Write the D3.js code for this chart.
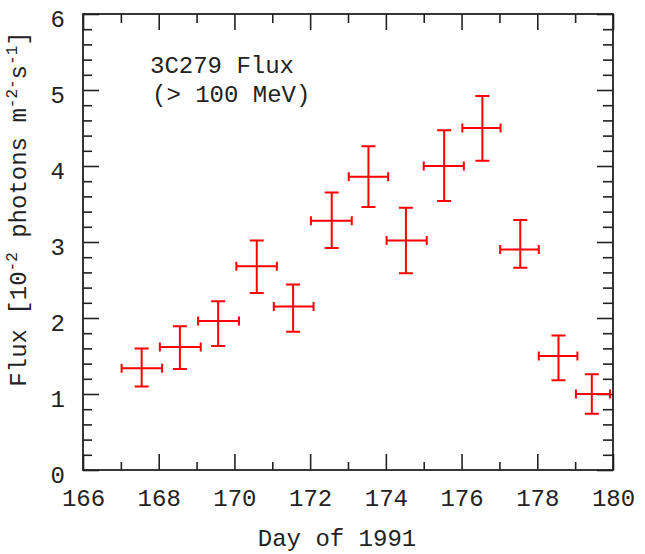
<!DOCTYPE html>
<html>
<head>
<meta charset="utf-8">
<script src="https://cdn.jsdelivr.net/npm/d3@7"></script>
<style>
    body { margin: 0; background: #fff; }
    text { font-family: "Liberation Mono", "DejaVu Sans Mono", monospace; fill: #222; }
</style>
</head>
<body>
<div id="chart"></div>
<script>
// flux points: bin edges, centre, flux and its error range
const dayMid = [167.55, 168.56, 169.57, 170.59, 171.55, 172.57, 173.54, 174.53, 175.54, 176.55, 177.55, 178.56, 179.44];
const dayLo = [167.02, 168.03, 169.04, 170.05, 171.04, 172.02, 173.02, 174.02, 175.00, 176.02, 177.02, 178.04, 179.02];
const dayHi = [168.09, 169.11, 170.12, 171.12, 172.09, 173.10, 174.06, 175.08, 176.06, 177.03, 178.04, 179.06, 179.92];
const flux = [1.34, 1.62, 1.96, 2.68, 2.15, 3.28, 3.86, 3.02, 4.00, 4.50, 2.90, 1.50, 1.00];
const fluxLo = [1.10, 1.33, 1.63, 2.33, 1.82, 2.92, 3.46, 2.59, 3.54, 4.07, 2.66, 1.18, 0.74];
const fluxHi = [1.60, 1.89, 2.22, 3.02, 2.44, 3.65, 4.26, 3.45, 4.47, 4.92, 3.29, 1.77, 1.26];

const xMajor = [166, 168, 170, 172, 174, 176, 178, 180];
const xMinor = [167, 169, 171, 173, 175, 177, 179];
const yMajor = [0, 1, 2, 3, 4, 5, 6];

const width = 645, height = 554;
const m = {left: 83, right: 32, top: 14, bottom: 84};

var points = dayMid.map(function (d, i) {
    return {x: d, x0: dayLo[i], x1: dayHi[i], y: flux[i], y0: fluxLo[i], y1: fluxHi[i]};
});

var x = d3.scaleLinear().domain([166, 180]).range([m.left, width - m.right]);
var y = d3.scaleLinear().domain([0, 6]).range([height - m.bottom, m.top]);

var yMinor = d3.range(0, 30).map(function (i) { return i * 0.2; }).filter(function (v, i) { return i % 5 !== 0; });

var svg = d3.select('#chart').append('svg')
    .attr('width', width)
    .attr('height', height);

function ticks(g) {
    g.select('.domain').remove();
    g.selectAll('line').attr('stroke', '#222').attr('stroke-width', 1.6);
}

var bottom = height - m.bottom, right = width - m.right;

// bottom axis with labels
svg.append('g').attr('transform', 'translate(0,' + bottom + ')')
    .call(d3.axisBottom(x).tickValues(xMajor).tickSize(-16).tickPadding(19).tickFormat(d3.format('d')))
    .call(ticks)
    .selectAll('text').attr('font-size', 24).attr('fill', '#222');
svg.append('g').attr('transform', 'translate(0,' + bottom + ')')
    .call(d3.axisBottom(x).tickValues(xMinor).tickSize(-8).tickFormat(''))
    .call(ticks);

// top axis, ticks only
svg.append('g').attr('transform', 'translate(0,' + m.top + ')')
    .call(d3.axisTop(x).tickValues(xMajor).tickSize(-16).tickFormat(''))
    .call(ticks);
svg.append('g').attr('transform', 'translate(0,' + m.top + ')')
    .call(d3.axisTop(x).tickValues(xMinor).tickSize(-9).tickFormat(''))
    .call(ticks);

// left axis with labels
svg.append('g').attr('transform', 'translate(' + m.left + ',0)')
    .call(d3.axisLeft(y).tickValues(yMajor).tickSize(-16).tickPadding(18).tickFormat(d3.format('d')))
    .call(ticks)
    .selectAll('text').attr('font-size', 24).attr('fill', '#222').attr('dy', '0.5em');
svg.append('g').attr('transform', 'translate(' + m.left + ',0)')
    .call(d3.axisLeft(y).tickValues(yMinor).tickSize(-9).tickFormat(''))
    .call(ticks);

// right axis, ticks only
svg.append('g').attr('transform', 'translate(' + right + ',0)')
    .call(d3.axisRight(y).tickValues(yMajor).tickSize(-16).tickFormat(''))
    .call(ticks);
svg.append('g').attr('transform', 'translate(' + right + ',0)')
    .call(d3.axisRight(y).tickValues(yMinor).tickSize(-10).tickFormat(''))
    .call(ticks);

// frame
svg.append('rect')
    .attr('x', m.left)
    .attr('y', m.top)
    .attr('width', right - m.left)
    .attr('height', bottom - m.top)
    .attr('fill', 'none')
    .attr('stroke', '#222')
    .attr('stroke-width', 1.8);

// error crosses
var g = svg.append('g').attr('stroke', '#f00').attr('stroke-width', 2).attr('fill', 'none');
var pt = g.selectAll('g.pt').data(points).enter().append('g').classed('pt', true);
pt.append('path').attr('d', function (d) {
    var cx = x(d.x), cy = y(d.y), xa = x(d.x0), xb = x(d.x1), ya = y(d.y1), yb = y(d.y0);
    return 'M' + xa + ',' + cy + 'H' + xb +
        'M' + xa + ',' + (cy - 4.5) + 'V' + (cy + 4.5) +
        'M' + xb + ',' + (cy - 4.5) + 'V' + (cy + 4.5) +
        'M' + cx + ',' + ya + 'V' + yb +
        'M' + (cx - 7) + ',' + ya + 'H' + (cx + 7) +
        'M' + (cx - 7) + ',' + yb + 'H' + (cx + 7);
});

// annotation
svg.append('text').attr('x', 150).attr('y', 73).attr('font-size', 24).text('3C279 Flux');
svg.append('text').attr('x', 152).attr('y', 102).attr('font-size', 24).text('(> 100 MeV)');

// axis titles
svg.append('text')
    .attr('x', 337).attr('y', 546)
    .attr('text-anchor', 'middle')
    .attr('font-size', 24)
    .text('Day of 1991');

var yl = svg.append('text')
    .attr('transform', 'translate(26,209) rotate(-90)')
    .attr('text-anchor', 'middle')
    .attr('font-size', 24);
yl.append('tspan').text('Flux [10');
yl.append('tspan').attr('font-size', 16).attr('dy', -9).text('-2');
yl.append('tspan').attr('dy', 9).text(' photons m');
yl.append('tspan').attr('font-size', 16).attr('dy', -9).text('-2-');
yl.append('tspan').attr('dy', 9).text('s');
yl.append('tspan').attr('font-size', 16).attr('dy', -9).text('-1');
yl.append('tspan').attr('dy', 9).text(']');
</script>
</body>
</html>
